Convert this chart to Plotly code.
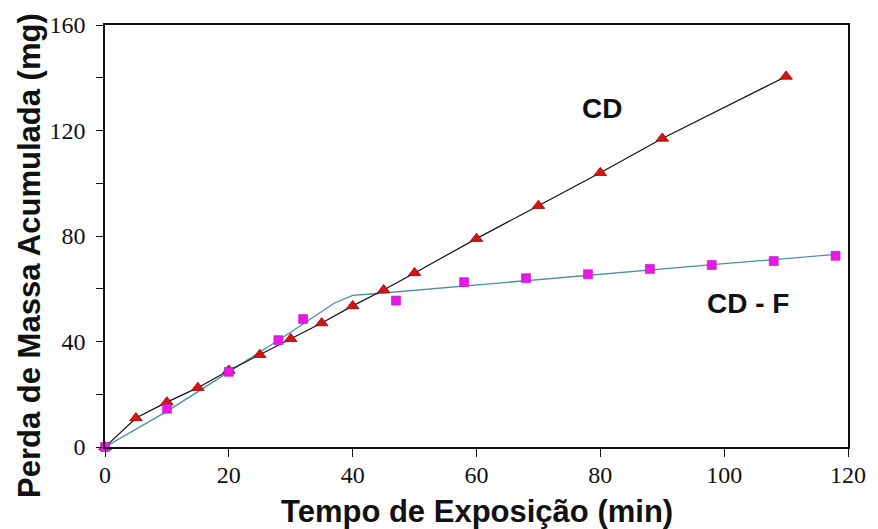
import plotly.graph_objects as go

# Série CD: perda de massa acumulada (mg) vs tempo (min)
cd_tempo = [0, 5, 10, 15, 20, 25, 30, 35, 40, 45, 50, 60, 70, 80, 90, 110]
cd_massa = [0, 11, 17, 22.5, 29, 35, 41, 47, 53.5, 59.5, 66, 79, 91.5, 104, 117, 140.5]

# Série CD-F: pontos medidos
cdf_tempo = [0, 10, 20, 28, 32, 47, 58, 68, 78, 88, 98, 108, 118]
cdf_massa = [0, 14.5, 28.5, 40.5, 48.5, 55.5, 62.5, 64, 65.5, 67.5, 69, 70.5, 72.5]

# Curva de ajuste da série CD-F
fit_tempo = [0, 10, 20, 30, 37, 40, 43, 60, 80, 100, 118]
fit_massa = [0, 13.5, 28.5, 43.5, 54.5, 57.5, 58, 61.5, 65.5, 69.5, 73]

x_ticks = [0, 20, 40, 60, 80, 100, 120]
y_ticks = [0, 40, 80, 120, 160]

fig = go.Figure()

fig.add_trace(go.Scatter(
    x=fit_tempo, y=fit_massa, mode="lines",
    line=dict(color="#4f8ca3", width=1.3),
    hoverinfo="skip", showlegend=False,
))
fig.add_trace(go.Scatter(
    x=cd_tempo, y=cd_massa, mode="lines+markers", name="CD",
    line=dict(color="#111111", width=1.2),
    marker=dict(symbol="triangle-up", size=11, color="#d01515",
                line=dict(color="#a00000", width=0.8)),
    cliponaxis=False, showlegend=False,
))
fig.add_trace(go.Scatter(
    x=cdf_tempo, y=cdf_massa, mode="markers", name="CD-F",
    marker=dict(symbol="square", size=9, color="#e619e6",
                line=dict(color="#c010c0", width=0.6)),
    cliponaxis=False, showlegend=False,
))

serif = "Liberation Serif"
tick_font = dict(family=serif, size=24, color="#111111")
title_font = dict(family="Liberation Sans, Arial, sans-serif", size=31, color="#111111")

xaxis = dict(
    range=[0, 120], tickmode="array", tickvals=x_ticks, ticktext=[str(v) for v in x_ticks],
    ticks="outside", ticklen=8, tickcolor="#111111", tickwidth=1.3,
    showline=True, linecolor="#111111", linewidth=1.5, mirror=True,
    showgrid=False, zeroline=False, tickfont=tick_font, ticklabelstandoff=-3,
)
yaxis = dict(
    range=[0, 160], tickmode="array", tickvals=y_ticks, ticktext=[str(v) for v in y_ticks],
    ticks="outside", ticklen=7, tickcolor="#111111", tickwidth=1.3,
    minor=dict(tickmode="linear", tick0=0, dtick=20, ticks="outside", ticklen=7,
               tickcolor="#111111", tickwidth=1.3, showgrid=False),
    showline=True, linecolor="#111111", linewidth=1.5, mirror=True,
    showgrid=False, zeroline=False, tickfont=tick_font, ticklabelstandoff=6,
)

fig.add_annotation(x=0.5, y=-0.153, xref="paper", yref="paper",
                   text="<b>Tempo de Exposição (min)</b>", showarrow=False,
                   font=title_font, xanchor="center", yanchor="middle")
fig.add_annotation(x=-0.101, y=0.455, xref="paper", yref="paper",
                   text="<b>Perda de Massa Acumulada (mg)</b>", showarrow=False,
                   font=title_font, textangle=-90, xanchor="center", yanchor="middle")

label_font = dict(family="Liberation Sans, Arial, sans-serif", size=28, color="#111111")
fig.add_annotation(x=80.3, y=128.5, text="<b>CD</b>", showarrow=False,
                   font=label_font, xanchor="center", yanchor="middle")
fig.add_annotation(x=103.8, y=54.3, text="<b>CD - F</b>", showarrow=False,
                   font=label_font, xanchor="center", yanchor="middle")

fig.update_layout(
    width=878, height=529,
    margin=dict(l=105, r=29, t=22, b=82),
    paper_bgcolor="white", plot_bgcolor="white",
    xaxis=xaxis, yaxis=yaxis,
)

fig.write_html("out.html")
